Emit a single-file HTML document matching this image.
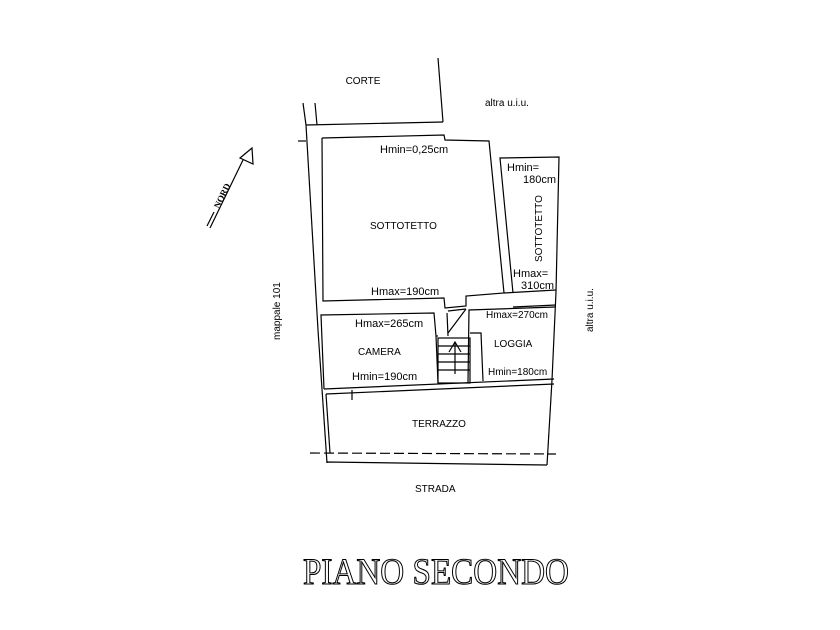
<!DOCTYPE html>
<html><head><style>html,body{margin:0;padding:0;background:#fff}svg{display:block}</style></head>
<body>
<svg width="840" height="630" viewBox="0 0 840 630" xmlns="http://www.w3.org/2000/svg" font-family="Liberation Sans, sans-serif" fill="none" stroke="#000" stroke-width="1.2">
<!-- corte / outer -->
<line x1="438" y1="58" x2="443" y2="122"/>
<line x1="306" y1="125" x2="443" y2="122"/>
<line x1="303" y1="103" x2="306" y2="125"/>
<line x1="315" y1="103" x2="317" y2="125"/>
<line x1="298" y1="141" x2="306" y2="141"/>
<line x1="306" y1="125" x2="318" y2="330"/>
<line x1="318" y1="330" x2="327" y2="463"/>
<!-- sottotetto -->
<polyline points="322,138 444,135 445,140 489,141 504,293 466,296 466,306 445,308 444,298 323,301 322,138"/>
<!-- small sottotetto -->
<polyline points="513,293 500,158 559,157 556,292"/>
<line x1="504" y1="293" x2="556" y2="290"/>
<line x1="513" y1="307" x2="556" y2="305"/>
<!-- camera -->
<polyline points="436,336 434,313 321,315 324,389"/>
<line x1="436" y1="336" x2="438" y2="336"/>
<line x1="447" y1="313" x2="448" y2="336"/>
<line x1="448" y1="311" x2="466" y2="309"/>
<line x1="448" y1="333" x2="466" y2="309"/>
<!-- stair -->
<polyline points="436,336 438,383"/>
<rect x="438" y="338" width="32" height="45"/>
<line x1="438" y1="346" x2="470" y2="346"/><line x1="438" y1="354" x2="470" y2="354"/>
<line x1="438" y1="362" x2="470" y2="362"/><line x1="438" y1="370" x2="470" y2="370"/>
<line x1="455" y1="374" x2="455" y2="342"/>
<polyline points="449,352 455,342 461,352"/>
<!-- loggia -->
<polyline points="468,383 469,310 555,307"/>
<polyline points="470,333 481,333 483,381"/>
<line x1="324" y1="389" x2="554" y2="379"/>
<line x1="326" y1="394" x2="554" y2="384"/>
<line x1="352" y1="390" x2="352" y2="400"/>
<line x1="556" y1="292" x2="552" y2="380"/>
<!-- terrazzo -->
<line x1="326" y1="394" x2="330" y2="453"/>
<line x1="552" y1="380" x2="547" y2="465"/>
<line x1="310" y1="453" x2="556" y2="454" stroke-dasharray="10,4"/>
<polyline points="327,463 327,462 547,465"/>
<!-- north arrow -->
<line x1="210" y1="228" x2="243" y2="160"/>
<line x1="207" y1="226" x2="214" y2="212"/>
<polygon points="252,148 240,158 253,164"/>
<g fill="#000" stroke="none" font-size="11">
<text x="363" y="84" text-anchor="middle" font-size="10">CORTE</text>
<text x="485" y="106" font-size="10">altra  u.i.u.</text>
<text x="380" y="153">Hmin=0,25cm</text>
<text x="370" y="229" font-size="10">SOTTOTETTO</text>
<text x="371" y="295">Hmax=190cm</text>
<text x="507" y="171">Hmin=</text>
<text x="523" y="183">180cm</text>
<text transform="translate(542,262) rotate(-90)" font-size="10">SOTTOTETTO</text>
<text x="513" y="277">Hmax=</text>
<text x="521" y="289">310cm</text>
<text x="355" y="327">Hmax=265cm</text>
<text x="358" y="355" font-size="10">CAMERA</text>
<text x="352" y="380">Hmin=190cm</text>
<text x="486" y="318" font-size="10">Hmax=270cm</text>
<text x="494" y="347" font-size="10">LOGGIA</text>
<text x="488" y="375" font-size="10">Hmin=180cm</text>
<text x="412" y="427" font-size="10">TERRAZZO</text>
<text x="415" y="492" font-size="10">STRADA</text>
<text transform="translate(280,340) rotate(-90)" font-size="10">mappale 101</text>
<text transform="translate(593,332) rotate(-90)" font-size="10">altra  u.i.u.</text>
<text transform="translate(219,209) rotate(-64)" font-size="9" font-family="Liberation Serif, serif" font-weight="bold">NORD</text>
</g>
<text x="303" y="584" font-family="Liberation Serif, serif" font-size="37" textLength="266" lengthAdjust="spacingAndGlyphs" fill="#fff" stroke="#000" stroke-width="1.1">PIANO SECONDO</text>
</svg>
</body></html>
